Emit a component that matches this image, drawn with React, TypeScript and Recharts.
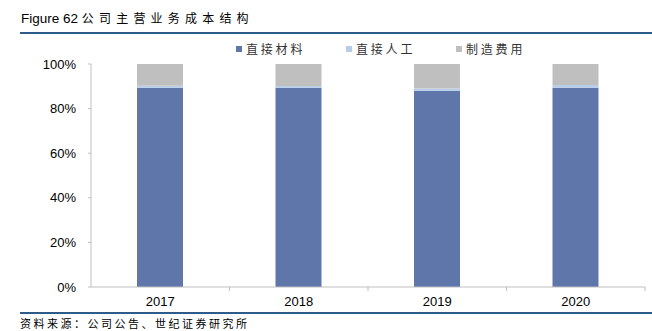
import { BarChart, Bar, XAxis, YAxis } from 'recharts'

const years = ['2017', '2018', '2019', '2020']
const directMaterial = [89.3, 89.3, 88.0, 89.4]
const directLabor = [1.0, 0.8, 1.0, 1.2]
const overhead = [9.7, 9.9, 11.0, 9.4]
const yTicks = [0, 20, 40, 60, 80, 100]

const series = [
  { key: 'material', name: '直接材料', color: '#5E76A9' },
  { key: 'labor', name: '直接人工', color: '#B7CDE8' },
  { key: 'overhead', name: '制造费用', color: '#BFBFBF' },
]

const data = years.map((year, i) => ({
  year,
  material: directMaterial[i],
  labor: directLabor[i],
  overhead: overhead[i],
}))

const numFont = '"Liberation Sans", Arial, sans-serif'
const cjkFont = '"Noto Sans CJK SC", sans-serif'

// year label in the middle of the band, tick mark on the band's right edge
const YearTick = ({ x, y, payload }: any) => {
  const half = payload?.offset ?? 69
  return (
    <g>
      <line x1={x + half} x2={x + half} y1={y} y2={y + 4} stroke="#BFBFBF" />
      <text x={x} y={y + 10} dy="0.71em" textAnchor="middle" fontFamily={numFont} fontSize={13} fill="#000">
        {payload.value}
      </text>
    </g>
  )
}

export default function App() {
  return (
    <div style={{ position: 'absolute', left: 0, top: 0, width: 652, height: 331, background: '#fff', overflow: 'hidden' }}>
      <div style={{ position: 'absolute', left: 21, top: 9, whiteSpace: 'nowrap', color: '#000' }}>
        <span style={{ fontFamily: numFont, fontSize: 13.5 }}>Figure 62 </span>
        <span style={{ fontFamily: cjkFont, fontSize: 12, letterSpacing: 5.2 }}>公司主营业务成本结构</span>
      </div>
      <div style={{ position: 'absolute', left: 20, top: 32, width: 632, height: 2, background: '#2E5C8A' }} />

      <div style={{ position: 'absolute', left: 236, top: 40, display: 'flex', whiteSpace: 'nowrap' }}>
        {series.map(s => (
          <div key={s.key} style={{ width: 110, display: 'flex', alignItems: 'center' }}>
            <span style={{ width: 6, height: 6, background: s.color, marginRight: 4 }} />
            <span style={{ fontFamily: cjkFont, fontSize: 12, letterSpacing: 2.8, color: '#333' }}>{s.name}</span>
          </div>
        ))}
      </div>

      <BarChart
        width={652}
        height={331}
        data={data}
        margin={{ top: 64, right: 7, bottom: 20, left: 31 }}
        barSize={46}
        style={{ position: 'absolute', left: 0, top: 0 }}
      >
        <XAxis
          dataKey="year"
          height={24}
          axisLine={{ stroke: '#BFBFBF' }}
          tickLine={false}
          tickSize={0}
          tickMargin={0}
          tick={YearTick}
        />
        <YAxis
          width={60}
          domain={[0, 100]}
          ticks={yTicks}
          allowDataOverflow
          tickFormatter={v => `${v}%`}
          axisLine={{ stroke: '#BFBFBF' }}
          tickLine={{ stroke: '#BFBFBF' }}
          tickSize={3}
          tickMargin={12}
          tick={{ fontFamily: numFont, fontSize: 13, fill: '#000' }}
        />
        {series.map(s => (
          <Bar key={s.key} dataKey={s.key} name={s.name} stackId="a" fill={s.color} isAnimationActive={false} />
        ))}
      </BarChart>

      <div style={{ position: 'absolute', left: 20, top: 312, width: 632, height: 2, background: '#2E5C8A' }} />
      <div style={{ position: 'absolute', left: 20, top: 315, whiteSpace: 'nowrap', fontFamily: cjkFont, fontSize: 11, letterSpacing: 2.5, color: '#000' }}>
        资料来源：公司公告、世纪证券研究所
      </div>
    </div>
  )
}
